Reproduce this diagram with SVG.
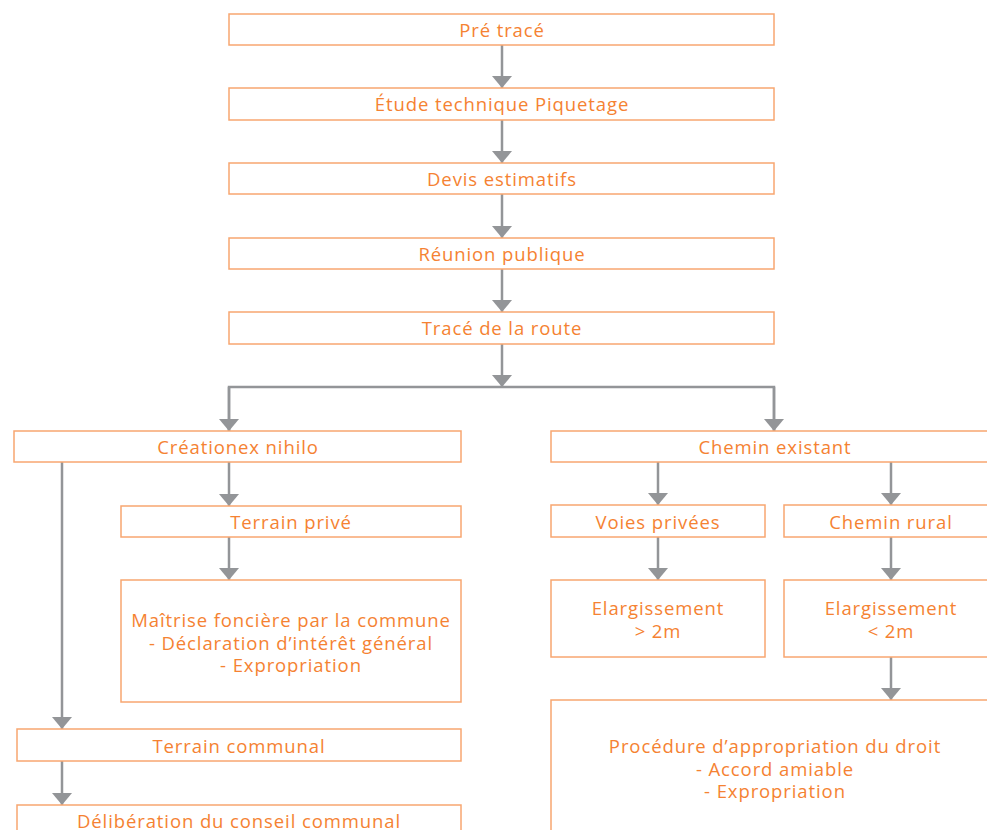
<svg xmlns="http://www.w3.org/2000/svg" width="987" height="830" viewBox="0 0 987 830">
<style>
.box{fill:#ffffff;stroke:#f8a670;stroke-width:1.5}
.t{font-family:"Open Sans","Liberation Sans",sans-serif;font-size:18.5px;letter-spacing:0.9px;fill:#f58232;text-anchor:middle}
.c{fill:none;stroke:#939598;stroke-width:2.5}
</style>
<defs>
<marker id="ah" markerUnits="userSpaceOnUse" markerWidth="12" markerHeight="20" refX="12" refY="10" orient="auto" viewBox="0 0 12 20">
<path d="M0,0 L12,10 L0,20 Z" fill="#939598"/>
</marker>
</defs>
<rect width="987" height="830" fill="#ffffff"/>
<g id="connectors">
<path class="c" d="M502,45 V88" marker-end="url(#ah)"/>
<path class="c" d="M502,120 V163" marker-end="url(#ah)"/>
<path class="c" d="M502,194 V238" marker-end="url(#ah)"/>
<path class="c" d="M502,269 V312" marker-end="url(#ah)"/>
<path class="c" d="M502,344 V387" marker-end="url(#ah)"/>
<path class="c" d="M229,431 V387 H774 V431"/>
<path class="c" d="M229,387 V431" marker-end="url(#ah)"/>
<path class="c" d="M774,387 V431" marker-end="url(#ah)"/>
<path class="c" d="M229,462 V506" marker-end="url(#ah)"/>
<path class="c" d="M62,462 V729" marker-end="url(#ah)"/>
<path class="c" d="M229,537 V580" marker-end="url(#ah)"/>
<path class="c" d="M62,761 V805" marker-end="url(#ah)"/>
<path class="c" d="M658,462 V505" marker-end="url(#ah)"/>
<path class="c" d="M891,462 V505" marker-end="url(#ah)"/>
<path class="c" d="M658,537 V580" marker-end="url(#ah)"/>
<path class="c" d="M891,537 V580" marker-end="url(#ah)"/>
<path class="c" d="M891,657 V700" marker-end="url(#ah)"/>
</g>
<g id="n1"><rect class="box" x="229" y="14" width="545" height="31"/><text class="t" x="502" y="37">Pré tracé</text></g>
<g id="n2"><rect class="box" x="229" y="88" width="545" height="32"/><text class="t" x="502" y="111">Étude technique Piquetage</text></g>
<g id="n3"><rect class="box" x="229" y="163" width="545" height="31"/><text class="t" x="502" y="186">Devis estimatifs</text></g>
<g id="n4"><rect class="box" x="229" y="238" width="545" height="31"/><text class="t" x="502" y="261">Réunion publique</text></g>
<g id="n5"><rect class="box" x="229" y="312" width="545" height="32"/><text class="t" x="502" y="335">Tracé de la route</text></g>
<g id="n6"><rect class="box" x="14" y="431" width="447" height="31"/><text class="t" x="238" y="454">Créationex nihilo</text></g>
<g id="n7"><rect class="box" x="551" y="431" width="448" height="31"/><text class="t" x="775" y="454">Chemin existant</text></g>
<g id="n8"><rect class="box" x="121" y="506" width="340" height="31"/><text class="t" x="291" y="529">Terrain privé</text></g>
<g id="n9"><rect class="box" x="551" y="505" width="214" height="32"/><text class="t" x="658" y="529">Voies privées</text></g>
<g id="n10"><rect class="box" x="784" y="505" width="214" height="32"/><text class="t" x="891" y="529">Chemin rural</text></g>
<g id="n11"><rect class="box" x="121" y="580" width="340" height="122"/><text class="t" x="291" y="627">Maîtrise foncière par la commune</text><text class="t" x="291" y="649.5">- Déclaration d’intérêt général</text><text class="t" x="291" y="672">- Expropriation</text></g>
<g id="n12"><rect class="box" x="551" y="580" width="214" height="77"/><text class="t" x="658" y="615">Elargissement</text><text class="t" x="658" y="638">&gt; 2m</text></g>
<g id="n13"><rect class="box" x="784" y="580" width="214" height="77"/><text class="t" x="891" y="615">Elargissement</text><text class="t" x="891" y="638">&lt; 2m</text></g>
<g id="n14"><rect class="box" x="17" y="729" width="444" height="32"/><text class="t" x="239" y="753">Terrain communal</text></g>
<g id="n15"><rect class="box" x="551" y="700" width="448" height="150"/><text class="t" x="775" y="753">Procédure d’appropriation du droit</text><text class="t" x="775" y="775.5">- Accord amiable</text><text class="t" x="775" y="798">- Expropriation</text></g>
<g id="n16"><rect class="box" x="17" y="805" width="444" height="40"/><text class="t" x="239" y="828">Délibération du conseil communal</text></g>
</svg>
